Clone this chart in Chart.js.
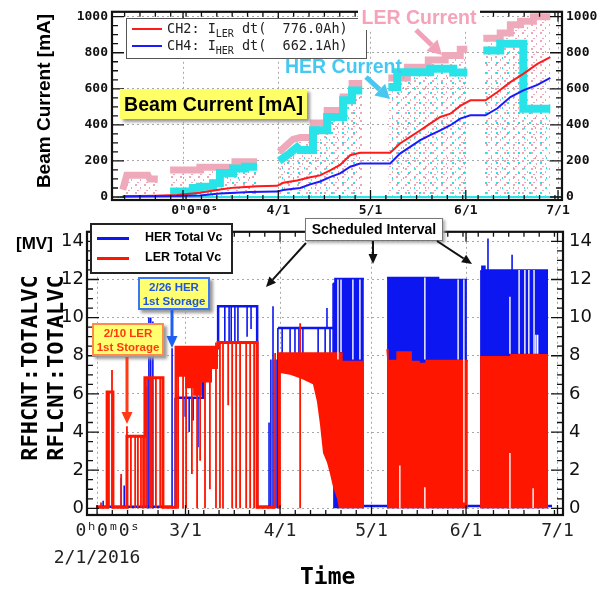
<!DOCTYPE html>
<html>
<head>
<meta charset="utf-8">
<script src="https://cdn.jsdelivr.net/npm/chart.js"></script>
<style>
  body { margin: 0; background: #fff; width: 607px; height: 592px; overflow: hidden; position: relative; font-family: 'Liberation Sans', Arial, sans-serif; }
  canvas { position: absolute; left: 0; }
  #topChart { top: 0; }
  #botChart { top: 215px; }
  .abs { position: absolute; white-space: nowrap; }
  .rot { position: absolute; white-space: nowrap; transform: translate(-50%, -50%) rotate(-90deg); }
  .mono { font-family: 'DejaVu Sans Mono', monospace; }
  .ybox { position: absolute; box-sizing: border-box; background: #ffff70; text-align: center; font-weight: bold; white-space: nowrap; box-shadow: 3px 3px 3px #999; }
  #ann { position: absolute; left: 0; top: 0; }
</style>
</head>
<body>
<canvas id="topChart" width="607" height="222"></canvas>
<canvas id="botChart" width="607" height="377"></canvas>

<!-- top panel annotations -->
<div class="rot" style="left:44px; top:101px; font: bold 19px 'Liberation Sans', Arial;">Beam Current [mA]</div>
<div class="abs" style="left:126px; top:18px; width:241px; height:41px; box-sizing:border-box; border:1.5px solid #555; background:#fff;"></div>
<div class="abs" style="left:132px; top:28px; width:30px; height:2px; background:#ff1a1a;"></div>
<div class="abs" style="left:132px; top:45px; width:30px; height:2px; background:#1a1aff;"></div>
<div class="abs mono" style="left:167px; top:20px; font-size:13.5px; color:#222; white-space:pre;">CH2: I<sub style="font-size:10px">LER</sub> dt(  776.0Ah)</div>
<div class="abs mono" style="left:167px; top:37px; font-size:13.5px; color:#222; white-space:pre;">CH4: I<sub style="font-size:10px">HER</sub> dt(  662.1Ah)</div>
<div class="abs" style="left:358px; top:4px; width:122px; height:26px; background:#fff; color:#f4a3b9; font: bold 19.5px 'Liberation Sans', Arial; text-align:center; line-height:26px;">LER Current</div>
<div class="abs" style="left:285px; top:55px; color:#46c9f1; font: bold 19.5px 'Liberation Sans', Arial;">HER Current</div>
<div class="ybox" style="left:120px; top:89px; width:187px; height:30px; font-size:19.5px; line-height:30px; background:#ffff66;">Beam Current [mA]</div>

<!-- bottom panel annotations -->
<div class="abs" style="left:16px; top:234px; font: bold 17px 'Liberation Sans', Arial;">[MV]</div>
<div class="rot mono" style="left:29px; top:368px; font-size:22px; font-weight:bold;">RFHCNT:TOTALVC</div>
<div class="rot mono" style="left:55px; top:368px; font-size:22px; font-weight:bold;">RFLCNT:TOTALVC</div>
<div class="abs mono" style="left:300px; top:563px; font-size:23px; font-weight:bold;">Time</div>

<div class="abs" style="left:90px; top:223px; width:143px; height:51px; box-sizing:border-box; border:2px solid #222; background:#fff;"></div>
<div class="abs" style="left:97px; top:237px; width:32px; height:3px; background:rgb(12,22,240);"></div>
<div class="abs" style="left:97px; top:257px; width:32px; height:3px; background:rgb(255,22,0);"></div>
<div class="abs" style="left:145px; top:230px; font: bold 12.5px 'Liberation Sans', Arial;">HER Total Vc</div>
<div class="abs" style="left:145px; top:250px; font: bold 12.5px 'Liberation Sans', Arial;">LER Total Vc</div>

<div class="abs" style="left:305px; top:218px; width:138px; height:23px; box-sizing:border-box; border:1px solid #777; background:#fff; box-shadow:2px 2px 3px #aaa; font: bold 14px 'Liberation Sans', Arial; text-align:center; line-height:21px;">Scheduled Interval</div>
<div class="ybox" style="left:138px; top:277px; width:72px; height:33px; border:2px solid #3a78f2; color:#1f56da; font-size:11.5px; line-height:14px; padding-top:1px;">2/26 HER<br>1st Storage</div>
<div class="ybox" style="left:92px; top:323px; width:72px; height:33px; border:2px solid #ff8a4a; color:#ff3a10; font-size:11.5px; line-height:14px; padding-top:1px;">2/10 LER<br>1st Storage</div>

<svg id="ann" width="607" height="592"></svg>

<script>
// ---- time axis: days since 2/1/2016 ----
const monthDays = [0, 29, 60, 90, 121, 151];
const topTickLabels = ['', '   0ʰ0ᵐ0ˢ', '4/1', '5/1', '6/1', '7/1'];
const botTickLabels = [['  0ʰ0ᵐ0ˢ', '2/1/2016'], '3/1', '4/1', '5/1', '6/1', '7/1'];
const topYTicks = [0, 200, 400, 600, 800, 1000];
const botYTicks = [0, 2, 4, 6, 8, 10, 12, 14];

// ---- top panel: beam current [mA], [day, mA] ----
// upper edge of the raw LER / HER current bands
const lerBeamTop = [
  [9.4, 40], [10.7, 120], [17.6, 120], [18.2, 100], [20.8, 100], [20.8, null],
  [24.8, 150], [34.5, 150], [34.5, 165], [45.9, 165], [45.9, 195], [53.1, 195], [53.1, null],
  [60.3, 250], [62.9, 290], [64.8, 320], [67.1, 330], [71.3, 330], [71.3, 410], [75.9, 410], [75.9, 480],
  [81.1, 480], [81.1, 555], [84.0, 555], [84.0, 630], [87.3, 630], [87.3, null],
  [95.8, 660], [102.0, 660], [102.0, 720], [108.8, 720], [108.8, 760], [114.3, 760], [114.3, 785],
  [119.2, 785], [119.2, 820], [121.5, 820], [121.5, null],
  [126.7, 880], [132.2, 880], [132.2, 910], [135.5, 910], [135.5, 955], [138.8, 955], [138.8, 975],
  [143.0, 975], [143.0, 1000], [148.5, 1000]
];
const herBeamTop = [
  [24.8, 30], [32.2, 30], [32.2, 50], [34.5, 50], [34.5, 57], [38.8, 57], [38.8, 76], [41.0, 76],
  [41.0, 133], [45.3, 133], [45.3, 158], [49.2, 158], [49.2, 168], [53.1, 168], [53.1, null],
  [60.3, 200], [63.8, 243], [66.1, 276], [67.1, 260], [71.3, 260], [71.3, 370], [75.9, 370], [75.9, 444],
  [81.1, 444], [81.1, 536], [84.0, 536], [84.0, 591], [87.3, 591], [87.3, null],
  [95.8, 610], [98.7, 610], [98.7, 692], [109.4, 692], [109.4, 711], [116.9, 711], [116.9, 690],
  [121.5, 690], [121.5, null],
  [126.7, 812], [132.2, 812], [132.2, 850], [139.7, 850], [139.7, 490], [148.5, 490]
];
const herBeamBase = [[8.5, 0], [152, 0]];
// integrated current (drawn scaled on the mA axis)
const lerCharge = [
  [9.4, 4], [20, 7], [27, 11], [34.5, 24], [41, 42], [45.5, 52], [50.8, 57], [53.1, 60], [59.6, 62],
  [61.6, 79], [66.1, 92], [70.4, 109], [73.6, 120], [77, 149], [80.1, 178], [83.4, 232], [86.6, 245],
  [96.4, 245], [99.6, 297], [102.9, 333], [106.2, 370], [109.4, 407], [112.7, 444], [116, 462],
  [119.2, 505], [122.5, 536], [127.4, 536], [131.3, 582], [135.5, 637], [139.7, 683], [144.3, 738],
  [148.5, 776]
];
const herCharge = [
  [9.4, 3], [27, 5], [34.5, 9], [41, 20], [50.8, 28], [59.6, 30], [61.6, 39], [67.1, 50], [70.4, 70],
  [73.6, 86], [77, 112], [80.1, 131], [83.4, 168], [86.6, 186], [96.4, 186], [99.6, 241], [102.9, 278],
  [106.2, 315], [109.4, 343], [112.7, 370], [116, 398], [119.2, 435], [122.5, 453], [127.4, 453],
  [131.3, 492], [135.5, 554], [139.7, 591], [144.3, 622], [148.5, 660]
];

// ---- bottom panel: total Vc [MV] ----
const herVcLine = [
  [-0.3, 0.08], [24.6, 0.08], [24.6, null],
  [25.6, 5.8], [34.8, 5.8], [34.8, 8.4], [39.7, 8.4], [39.7, 10.6], [52.5, 10.6], [52.5, 0.08], [56.7, 0.08], [56.7, null],
  [59.3, 9.45], [77.4, 9.45], [77.4, null],
  [87.5, 0.12], [95.1, 0.12], [95.1, null],
  [121.4, 0.12], [125.6, 0.12], [125.6, null],
  [147.9, 0.12], [149.2, 0.12]
];
const herVcBand = [
  [77.4, 11.8], [78.0, 11.8], [78.0, 12.05], [87.5, 12.05], [87.5, null],
  [95.1, 12.1], [112.0, 12.1], [112.0, 12.0], [121.3, 12.0], [121.3, null],
  [125.6, 12.45], [126.2, 12.45], [126.2, 12.7], [127.2, 12.7], [127.2, 12.5], [147.9, 12.5]
];
const herVcSpikes = [ // [day, low, high]
  [2.0, 0, 0.4], [7.9, 0, 1.6], [8.9, 0, 1.2],
  [16.4, 0, 6.4], [17.0, 0, 10.0], [17.6, 0, 10.0], [18.3, 0, 9.8],
  [24.6, 0, 8.4], [25.6, 0, 5.8],
  [28.9, 4.8, 5.8], [30.2, 4.0, 5.8], [31.5, 4.6, 5.8], [33.1, 3.2, 5.8],
  [41.9, 8.7, 10.6], [43.3, 8.7, 10.6], [44.0, 8.7, 10.6], [45.2, 8.7, 10.6], [46.2, 8.7, 10.6], [49.2, 9.0, 10.6], [50.5, 9.4, 10.6],
  [56.4, 0, 4.5], [57.0, 0, 7.8], [57.7, 0, 10.6], [58.4, 0, 7.8], [59.0, 0, 7.8], [59.3, 0, 9.45],
  [60.7, 8.15, 9.45], [63.3, 8.15, 9.45], [64.9, 8.15, 9.45], [66.2, 8.15, 9.45], [67.5, 8.15, 9.45], [72.5, 8.15, 9.45], [74.8, 8.15, 9.45],
  [75.4, 9.45, 10.5], [76.4, 8.15, 9.45], [77.4, 8.15, 11.8],
  [128.2, 12.5, 14.15], [136.1, 12.5, 13.3]
];
const lerVcLine = [
  [-0.3, 0.05], [3.3, 0.05], [3.3, 6.1], [5.2, 6.1], [5.2, 0.05], [9.8, 0.05], [9.8, 3.78], [15.7, 3.78],
  [15.7, 6.85], [21.6, 6.85], [21.6, 0.05], [25.9, 0.05], [25.9, 8.45], [39.7, 8.45], [39.7, 8.7],
  [52.5, 8.7], [52.5, 0.05], [58.4, 0.05]
];
const lerVcBand = [ // [day, high, low]
  [26.2, 8.45, 6.9], [28.9, 8.45, 6.9], [28.9, 8.45, 6.3], [31.5, 8.45, 6.3], [31.5, 8.45, 5.9], [34.4, 8.45, 5.9],
  [34.4, 8.45, 6.6], [37.7, 8.45, 6.6], [37.7, 8.45, 7.3], [39.7, 8.45, 7.3], [39.7, null, null],
  [59.3, 8.15, 0], [60.0, 8.15, 0], [60.0, 8.15, 7.1], [63.3, 8.15, 7.0], [67.0, 8.15, 6.8], [70.8, 8.15, 6.5],
  [72.1, 8.15, 5.6], [73.1, 8.15, 4.4], [74.1, 8.15, 2.9], [75.4, 8.15, 2.4], [76.4, 8.15, 1.8], [77.4, 8.15, 1.1],
  [78.7, 8.15, 0.5], [79.3, 8.15, 0], [80.3, 8.15, 0], [80.3, 7.7, 0], [87.5, 7.7, 0], [87.5, null, null],
  [95.1, 8.35, 0], [95.4, 8.35, 0], [95.4, 7.75, 0], [98.4, 7.75, 0], [98.4, 8.2, 0], [103.0, 8.2, 0],
  [103.0, 7.7, 0], [105.6, 7.7, 0], [105.6, 7.6, 0], [107.9, 7.6, 0], [107.9, 7.75, 0], [121.6, 7.75, 0], [121.6, null, null],
  [125.6, 7.95, 0], [135.7, 7.95, 0], [135.7, 8.05, 0], [147.9, 8.05, 0]
];
const lerVcSpikes = [ // [day, low, high]
  [1.3, 0, 0.3], [3.3, 0, 6.1], [3.9, 0, 6.1], [4.9, 0, 7.25], [5.2, 0, 6.1],
  [7.9, 0, 1.8], [9.8, 0, 4.3], [11.1, 0, 3.78], [12.5, 0, 3.78], [13.4, 0, 3.78], [14.4, 0, 3.78], [15.1, 0, 3.78],
  [15.7, 0, 6.85], [16.4, 0, 6.85], [17.4, 0, 6.85], [18.0, 0, 6.85], [19.3, 0, 6.85], [20.7, 0, 6.85], [21.6, 0, 6.85],
  [25.9, 0, 8.45], [26.6, 0, 8.45], [28.2, 0, 8.45], [29.2, 0, 8.45], [31.1, 1.8, 8.45], [32.8, 0, 8.45],
  [33.8, 2.5, 8.45], [35.4, 0, 8.45], [37.0, 1.0, 8.45], [39.0, 0, 8.7],
  [40.3, 0, 8.7], [41.3, 0, 8.7], [43.0, 5.4, 8.7], [44.3, 0, 8.7], [45.6, 0, 8.7], [46.9, 0, 8.7],
  [48.9, 0, 8.7], [50.2, 0, 8.7], [51.5, 0, 8.7], [52.5, 0, 8.7],
  [58.4, 0, 8.15], [60.0, 0, 8.15], [66.6, 0, 9.7]
];
const vcDropouts = [ // [day, low, high] short beam aborts
  [79.0, 7.8, 12.0], [80.0, 8.2, 12.0], [83.9, 7.8, 12.0], [86.2, 7.8, 12.0],
  [99.3, 0, 2.25], [107.5, 0, 1.1], [107.5, 7.8, 12.1], [118.4, 7.8, 12.0], [120.3, 0.3, 12.0],
  [135.4, 0, 2.9], [135.4, 8.1, 11.1], [138.4, 8.1, 12.5], [140.3, 8.1, 12.5], [141.6, 8.1, 12.5],
  [143.0, 0, 1.05], [143.3, 8.1, 12.5], [143.9, 8.1, 9.1], [144.5, 8.1, 9.1]
];

// ---- helpers ----
const BLUE = 'rgb(12,22,240)';
const RED = 'rgb(255,22,0)';
const pts = a => a.map(r => ({ x: r[0], y: r[1] }));
const col = (a, i) => a.map(r => ({ x: r[0], y: r[i] }));
const bars = a => a.flatMap(([x, lo, hi]) => [{ x, y: lo }, { x, y: hi }, { x, y: null }]);
const range = (a, b, s) => { const out = []; for (let v = a; v <= b + 1e-9; v += s) out.push(+v.toFixed(3)); return out; };

function line(data, color, width, extra) {
  return Object.assign({
    type: 'line', data, borderColor: color, borderWidth: width, pointRadius: 0,
    fill: false, tension: 0, spanGaps: false, borderCapStyle: 'butt'
  }, extra || {});
}

function dots(color, w, h, spots) {
  const c = document.createElement('canvas');
  c.width = w; c.height = h;
  const g = c.getContext('2d');
  g.fillStyle = color;
  spots.forEach(([x, y, sw, sh]) => g.fillRect(x, y, sw, sh));
  return g.createPattern(c, 'repeat');
}

// draws the frame and the inward ticks of a panel
const frameTicks = {
  id: 'frameTicks',
  afterDraw(chart, args, o) {
    const { ctx, chartArea: a, scales } = chart;
    ctx.save();
    ctx.strokeStyle = '#111';
    ctx.lineWidth = 1.3;
    ctx.beginPath();
    const xt = (list, len) => list.forEach(v => {
      const p = scales.x.getPixelForValue(v);
      if (p <= a.left + 1 || p >= a.right - 1) return;
      ctx.moveTo(p, a.bottom); ctx.lineTo(p, a.bottom - len);
      ctx.moveTo(p, a.top); ctx.lineTo(p, a.top + len);
    });
    const yt = (list, len) => list.forEach(v => {
      const p = scales.y.getPixelForValue(v);
      if (p <= a.top + 1 || p >= a.bottom - 1) return;
      ctx.moveTo(a.left, p); ctx.lineTo(a.left + len, p);
      ctx.moveTo(a.right, p); ctx.lineTo(a.right - len, p);
    });
    xt(o.xMinor, 5); xt(o.xMajor, 10);
    yt(o.yMinor, 6); yt(o.yMajor, 12);
    ctx.stroke();
    ctx.lineWidth = 2.2;
    ctx.strokeRect(a.left, a.top, a.width, a.height);
    ctx.restore();
  }
};

function xAxis(min, max, labels, font, pad, height, color) {
  return {
    type: 'linear', min, max, offset: false,
    grid: { color: '#a8a8a8', lineWidth: 1, drawTicks: false },
    border: { display: false, dash: [2, 3] },
    ticks: {
      autoSkip: false, maxRotation: 0, padding: pad, font, color,
      callback: v => labels[monthDays.indexOf(v)]
    },
    afterBuildTicks: s => { s.ticks = monthDays.filter(v => v >= min && v <= max).map(value => ({ value })); },
    afterFit: s => { s.height = height; }
  };
}
function yAxis(min, max, ticks, font, pad, width, right) {
  return {
    type: 'linear', min, max, position: right ? 'right' : 'left',
    grid: { display: !right, color: '#a8a8a8', lineWidth: 1, drawTicks: false },
    border: { display: false, dash: [2, 3] },
    ticks: { padding: pad, font, color: '#111', callback: v => String(v) },
    afterBuildTicks: s => { s.ticks = ticks.map(value => ({ value })); },
    afterFit: s => { s.width = width; }
  };
}
function ordered(sets) {
  sets.forEach((d, i) => { d.order = sets.length - i; });
  return sets;
}

// ---- top panel ----
const pinkDots = dots('rgb(238,165,182)', 9, 8, [[0, 0, 2, 2], [5, 3, 1, 2], [2, 6, 2, 1]]);
const cyanDots = dots('rgb(40,226,232)', 11, 10, [[1, 2, 2, 2], [7, 7, 1, 2]]);

const topSets = ordered([
  line(pts(lerBeamTop), 'rgb(238,170,186)', 7, { fill: 'origin', backgroundColor: pinkDots }),
  line(pts(herBeamTop), 'rgb(40,228,232)', 8, { fill: 'origin', backgroundColor: cyanDots }),
  line(pts(herBeamBase), 'rgb(40,228,232)', 2),
  line(pts(lerCharge), '#ff1a1a', 2),
  line(pts(herCharge), '#1a1aff', 2)
]);

new Chart(document.getElementById('topChart'), {
  type: 'line',
  data: { datasets: topSets },
  options: {
    responsive: false, animation: false, events: [],
    layout: { padding: { top: 11, left: 0, right: 0, bottom: 0 } },
    plugins: {
      legend: { display: false }, tooltip: { enabled: false },
      frameTicks: { xMajor: monthDays, xMinor: range(0, 155, 5), yMajor: topYTicks, yMinor: range(0, 1000, 50) }
    },
    scales: {
      x: xAxis(5.9, 152.3, topTickLabels, { family: 'DejaVu Sans Mono', size: 13, weight: 'bold' }, 3, 22, '#111'),
      y: yAxis(-16.6, 1027, topYTicks, { family: 'DejaVu Sans Mono', size: 13, weight: 'bold' }, 4, 112, false),
      y2: yAxis(-16.6, 1027, topYTicks, { family: 'DejaVu Sans Mono', size: 13, weight: 'bold' }, 4, 45, true)
    }
  },
  plugins: [frameTicks]
});

// ---- bottom panel ----
const botSets = ordered([
  line(pts(herVcBand), BLUE, 1.5, { fill: 'origin', backgroundColor: BLUE }),
  line(pts(herVcLine), BLUE, 2.5),
  line(bars(herVcSpikes), BLUE, 1.6),
  line(col(lerVcBand, 1), RED, 1.5, { fill: '+1', backgroundColor: RED }),
  line(col(lerVcBand, 2), RED, 0),
  line(pts(lerVcLine), RED, 3),
  line(bars(lerVcSpikes), RED, 1.8),
  line(bars(vcDropouts), '#ffffff', 1.4)
]);

new Chart(document.getElementById('botChart'), {
  type: 'line',
  data: { datasets: botSets },
  options: {
    responsive: false, animation: false, events: [],
    layout: { padding: { top: 5, left: 0, right: 0, bottom: 0 } },
    plugins: {
      legend: { display: false }, tooltip: { enabled: false },
      frameTicks: { xMajor: monthDays, xMinor: range(0, 155, 5), yMajor: botYTicks, yMinor: range(0, 14.5, 0.5) }
    },
    scales: {
      x: xAxis(-3.3, 152.8, botTickLabels, { family: 'DejaVu Sans Mono', size: 18, lineHeight: 1.5 }, 3, 77, '#222'),
      y: yAxis(-0.35, 14.5, botYTicks, { family: 'DejaVu Sans', size: 18 }, 3, 87, false),
      y2: yAxis(-0.35, 14.5, botYTicks, { family: 'DejaVu Sans', size: 18 }, 6, 44, true)
    }
  },
  plugins: [frameTicks]
});

// ---- annotation arrows ----
const svg = document.getElementById('ann');
const NS = 'http://www.w3.org/2000/svg';
function arrow(x1, y1, x2, y2, color, w, hl, hw) {
  const ang = Math.atan2(y2 - y1, x2 - x1);
  const bx = x2 - hl * Math.cos(ang), by = y2 - hl * Math.sin(ang);
  const nx = -Math.sin(ang) * hw / 2, ny = Math.cos(ang) * hw / 2;
  const l = document.createElementNS(NS, 'line');
  [['x1', x1], ['y1', y1], ['x2', bx], ['y2', by], ['stroke', color], ['stroke-width', w]].forEach(([k, v]) => l.setAttribute(k, v));
  const p = document.createElementNS(NS, 'polygon');
  p.setAttribute('points', `${x2},${y2} ${bx + nx},${by + ny} ${bx - nx},${by - ny}`);
  p.setAttribute('fill', color);
  svg.appendChild(l); svg.appendChild(p);
}
arrow(416, 30, 442, 55, '#f2a2b8', 5, 14, 16);
arrow(366, 77, 390, 99, '#48c8f0', 5, 14, 16);
arrow(306, 243, 266, 287, '#111', 2, 10, 9);
arrow(373, 241, 373, 264, '#111', 2, 10, 9);
arrow(437, 241, 472, 264, '#111', 2, 10, 9);
arrow(172, 310, 172, 348, '#1f5ff0', 3, 12, 11);
arrow(127, 357, 127, 424, '#ff3a14', 3, 12, 11);
</script>
</body>
</html>
